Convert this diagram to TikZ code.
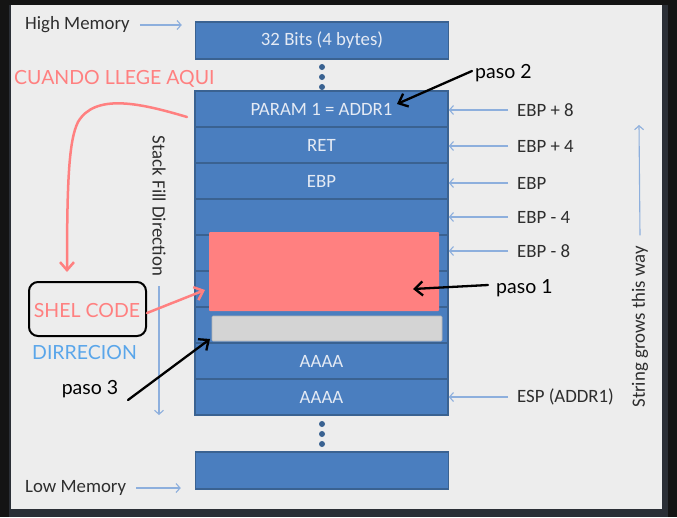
\documentclass[tikz,border=0pt]{standalone}
\usepackage{fontspec}
\setmainfont{Carlito}
\newfontfamily\handfont{Lato}
\usetikzlibrary{arrows.meta}

\definecolor{stackblue}{HTML}{4A7EBF}
\definecolor{stackedge}{HTML}{3A6291}
\definecolor{boxtext}{HTML}{E4EAF4}
\definecolor{labeltext}{HTML}{2E2E2E}
\definecolor{guide}{HTML}{8DAFDD}
\definecolor{salmon}{HTML}{FF8080}
\definecolor{skyblue}{HTML}{5AA6EA}
\definecolor{panelgray}{HTML}{EDEDED}
\definecolor{framegray}{HTML}{2B2F36}
\definecolor{bufgray}{HTML}{D4D4D4}

\tikzset{
  cell/.style={draw=stackedge, line width=1.5pt, fill=stackblue,
    minimum width=253pt, minimum height=36pt, inner sep=0pt,
    text=boxtext, font=\fontsize{18.8}{22}\selectfont},
  addr/.style={inner sep=0pt, anchor=west, text=labeltext,
    font=\fontsize{18.8}{22}\selectfont},
  side/.style={inner sep=0pt, text=labeltext,
    font=\fontsize{18.8}{22}\selectfont},
  note/.style={inner sep=0pt, font=\handfont\fontsize{19.5}{23}\selectfont},
  guidearrow/.style={draw=guide, line width=1.1pt,
    -{Straight Barb[length=4pt,width=9pt]}},
  pointer/.style={draw=black, line width=2.3pt, line cap=round,
    -{Straight Barb[length=8pt,width=14pt]}},
  redpointer/.style={draw=salmon, line width=2.5pt, line cap=round,
    -{Straight Barb[length=8pt,width=14pt]}},
  stackdot/.style={circle, fill=stackedge, inner sep=0pt, minimum size=6pt}
}

\begin{document}
\begin{tikzpicture}[x=1pt,y=-1pt]
  % frame and panel
  \useasboundingbox (0,0) rectangle (677,517);
  \fill[black!92] (0,0) rectangle (677,517);
  \fill[framegray] (9,5) rectangle (668,517);
  \fill[panelgray] (11,5) rectangle (662,509);

  % memory words
  \node[cell, minimum height=37pt] (top) at (322,40.5) {32 Bits (4 bytes)};
  \node[cell] (r1) at (321.5,109) {PARAM 1 = ADDR1};
  \node[cell] (r2) at (321.5,145) {RET};
  \node[cell] (r3) at (321.5,181) {EBP};
  \node[cell] (r4) at (321.5,217) {};
  \node[cell] (r5) at (321.5,253) {};
  \node[cell] (r6) at (321.5,289) {};
  \node[cell] (r7) at (321.5,325) {};
  \node[cell] (r8) at (321.5,361) {AAAA};
  \node[cell] (r9) at (321.5,397) {AAAA};
  \node[cell, minimum height=37pt] (bot) at (322,470.5) {};

  % gaps in the stack
  \node[stackdot] (d1) at (322,67) {};
  \node[stackdot] (d2) at (322,77) {};
  \node[stackdot] (d3) at (322,87) {};
  \node[stackdot] (d4) at (322,424) {};
  \node[stackdot] (d5) at (322,434) {};
  \node[stackdot] (d6) at (322,444) {};

  % injected payload and padding
  \fill[salmon, rounded corners=1pt] (209,232) rectangle (439,311);
  \coordinate (shell) at (205,290);
  \coordinate (shellmid) at (413,289);
  \filldraw[fill=bufgray, draw=bufgray!85!black, line width=0.6pt, rounded corners=1pt]
    (212,316) rectangle (442,341);
  \coordinate (pad) at (210,339);
  \coordinate (ret) at (397,104);

  % memory ends
  \node[side, anchor=west] (hm) at (25,25) {High Memory};
  \node[side, anchor=west] (lm) at (25,488) {Low Memory};
  \draw[guidearrow, shorten <=10pt, shorten >=13pt] (hm.east) -- (hm.east -| top.west);
  \draw[guidearrow, shorten <=10pt, shorten >=14pt] (lm.east) -- (lm.east -| bot.west);

  % frame offsets
  \node[addr] (o1) at (517,110) {EBP + 8};
  \node[addr] (o2) at (517,146) {EBP + 4};
  \node[addr] (o3) at (517,183) {EBP};
  \node[addr] (o4) at (517,217) {EBP - 4};
  \node[addr] (o5) at (517,251) {EBP - 8};
  \node[addr] (o6) at (517,397) {ESP (ADDR1)};
  \foreach \o/\r in {o1/r1,o2/r2,o3/r3,o4/r4,o5/r5,o6/r9}
    \draw[guidearrow, shorten <=9pt] (\o.west) -- (\o.west -| \r.east);

  % direction hints
  \node[side, rotate=-90] (fill) at (159,206) {Stack Fill Direction};
  \coordinate (fillend) at (159,415);
  \draw[guidearrow] ([yshift=-10pt]fill.east) -- (fillend);
  \node[side, rotate=90] (grow) at (640,327) {String grows this way};
  \coordinate (growend) at (639,125);
  \draw[guidearrow] ([yshift=11pt]grow.east) -- (growend);

  % annotations
  \node[note, text=salmon, anchor=west] (when) at (14,79) {CUANDO LLEGE AQUI};
  \node[draw=black, line width=2pt, rounded corners=9pt, minimum width=117pt,
        minimum height=54pt, inner sep=0pt] (sbox) at (87.5,309) {};
  \node[note, text=salmon] (scode) at (87,311) {SHEL CODE};
  \node[note, text=skyblue, anchor=west] (dir) at (32,353) {DIRRECION};
  \node[note, anchor=west] (p1) at (496,288) {paso 1};
  \node[note, anchor=west] (p2) at (475,73) {paso 2};
  \node[note] (p3) at (90,389) {paso 3};

  \coordinate (loopstart) at (187,117);
  \coordinate (loopend) at (67,272);
  \draw[redpointer] (loopstart) .. controls (140,103) and (95,93) .. (78,122)
    .. controls (69,140) and (67,180) .. (loopend);
  \draw[redpointer] ([yshift=-4pt]sbox.east) -- (shell);

  \draw[pointer] ([xshift=-3pt,yshift=2pt]p2.west) -- (ret);
  \draw[pointer] ([xshift=-8pt,yshift=3pt]p1.west) -- (shellmid);
  \draw[pointer] ([xshift=38pt,yshift=-11pt]p3.center) -- (pad);
\end{tikzpicture}
\end{document}
